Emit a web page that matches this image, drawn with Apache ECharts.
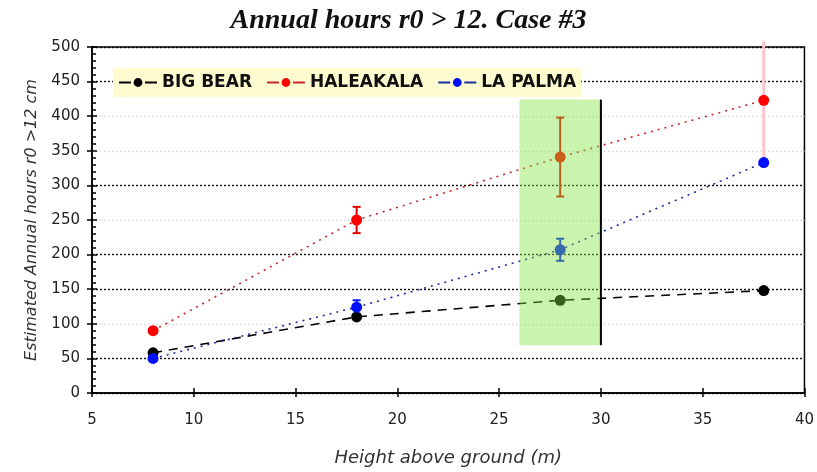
<!DOCTYPE html>
<html>
<head>
<meta charset="utf-8">
<script src="https://cdn.jsdelivr.net/npm/echarts@6/dist/echarts.min.js"></script>
<style>
  html, body { margin: 0; padding: 0; background: #fff; }
  #chart { width: 817px; height: 472px; }
</style>
</head>
<body>
<div id="chart"></div>
<script>
// Heights above ground (m) at which each site was measured
const heights = [8, 18, 28, 38];

// Estimated annual hours with r0 > 12 cm
const bigBear   = [58, 110, 134, 148];
const haleakala = [90, 250, 341, 423];
const laPalma   = [50, 124, 207, 333];

// Half-widths of the error bars (null = no bar)
const haleakalaErr = [null, 19, 57, 85];
const laPalmaErr   = [null, 10, 16, null];

// Highlighted height band and its vertical extent
const bandX = [26, 30];
const bandY = [69, 424];

// Axis ranges
const xTicks = { min: 5, max: 40, step: 5 };
const yTicks = { min: 0, max: 500, step: 50 };

const font = 'DejaVu Sans';

function pairs(ys) {
  return heights.map((h, i) => [h, ys[i]]);
}
function errRows(ys, errs) {
  const rows = [];
  heights.forEach((h, i) => {
    if (errs[i] != null) rows.push([h, ys[i] - errs[i], ys[i] + errs[i], ys[i] + errs[i] > yTicks.max ? 1 : 0]);
  });
  return rows;
}

function errorBars(name, rows, color, faint) {
  return {
    type: 'custom',
    name: name + ' err',
    xAxisIndex: 0, yAxisIndex: 0,
    z: 1,
    clip: false,
    data: rows,
    renderItem: function (params, api) {
      const x = api.value(0);
      const lo = api.coord([x, api.value(1)]);
      const hi = api.coord([x, api.value(2)]);
      const over = api.value(3) === 1;
      const stroke = over ? faint : color;
      const children = [{
        type: 'line',
        shape: { x1: lo[0], y1: lo[1], x2: hi[0], y2: hi[1] },
        style: { stroke: stroke, lineWidth: over ? 3 : 2 }
      }];
      if (!over) {
        const w = 4;
        children.push(
          { type: 'line', shape: { x1: lo[0] - w, y1: lo[1], x2: lo[0] + w, y2: lo[1] }, style: { stroke: stroke, lineWidth: 2 } },
          { type: 'line', shape: { x1: hi[0] - w, y1: hi[1], x2: hi[0] + w, y2: hi[1] }, style: { stroke: stroke, lineWidth: 2 } }
        );
      }
      return { type: 'group', children: children };
    }
  };
}

// Gridline shades, one per tick from 0 to 500
const gridShades = ['#000', '#111', '#e2e2e2', '#111', '#111', '#e2e2e2', '#111', '#e2e2e2', '#e2e2e2', '#111', '#000'];

const chart = echarts.init(document.getElementById('chart'), null, { renderer: 'canvas' });

chart.setOption({
  backgroundColor: '#ffffff',
  animation: false,
  title: {
    text: 'Annual hours r0 > 12. Case #3',
    left: 'center', top: 2,
    textStyle: { fontFamily: 'Liberation Serif', fontStyle: 'italic', fontWeight: 'bold', fontSize: 28, color: '#111' }
  },
  grid: {
    left: 92, right: 10, top: 47, bottom: 77,
    show: true, borderColor: '#000', borderWidth: 1.5, backgroundColor: 'transparent'
  },
  legend: {
    left: 113, top: 68,
    backgroundColor: '#fffbd0',
    padding: [6, 5, 6, 5],
    itemGap: 14,
    itemWidth: 38, itemHeight: 11,
    data: ['BIG BEAR', 'HALEAKALA', 'LA PALMA'],
    lineStyle: { type: [12, 14], width: 2 },
    textStyle: { fontFamily: font, fontWeight: 'bold', fontSize: 17, color: '#111' }
  },
  xAxis: [{
    type: 'value', min: xTicks.min, max: xTicks.max, interval: xTicks.step,
    name: 'Height above ground (m)', nameLocation: 'middle', nameGap: 56,
    nameTextStyle: { fontFamily: font, fontStyle: 'italic', fontSize: 18, color: '#333' },
    axisLine: { show: true, lineStyle: { color: '#000', width: 1.5 } },
    axisTick: { show: true, inside: true, length: 5, lineStyle: { color: '#000', width: 1.5 } },
    axisLabel: { fontFamily: font, fontSize: 15, color: '#222', margin: 20 },
    splitLine: { show: false }
  }, {
    type: 'value', min: xTicks.min, max: xTicks.max, interval: xTicks.step, position: 'bottom',
    axisLine: { show: false },
    axisTick: { show: true, inside: false, length: 4, lineStyle: { color: '#000', width: 1.5 } },
    axisLabel: { show: false },
    splitLine: { show: false }
  }],
  yAxis: [{
    type: 'value', min: yTicks.min, max: yTicks.max, interval: yTicks.step,
    name: 'Estimated Annual hours r0 >12 cm', nameLocation: 'middle', nameGap: 52, nameRotate: 90,
    nameTextStyle: { fontFamily: font, fontStyle: 'italic', fontSize: 16, color: '#333' },
    axisLine: { show: true, lineStyle: { color: '#000', width: 1.5 } },
    axisTick: { show: true, inside: false, length: 5, lineStyle: { color: '#000', width: 1.5 } },
    axisLabel: { fontFamily: font, fontSize: 15, color: '#222', margin: 12 },
    splitLine: { show: true, lineStyle: { color: gridShades, width: 1.4, type: [2, 2] } }
  }, {
    type: 'value', min: yTicks.min, max: yTicks.max, interval: yTicks.step, position: 'left',
    axisLine: { show: false },
    axisTick: { show: true, inside: true, length: 5, lineStyle: { color: '#000', width: 1.5 } },
    minorTick: { show: true, splitNumber: 5, length: 4, lineStyle: { color: '#000', width: 1.5 } },
    axisLabel: { show: false },
    splitLine: { show: false }
  }],
  series: [
    errorBars('HALEAKALA', errRows(haleakala, haleakalaErr), '#e00000', '#ffc4cc'),
    errorBars('LA PALMA', errRows(laPalma, laPalmaErr), '#0010ff', '#aab4ff'),
    {
      name: 'BIG BEAR', type: 'line', z: 2,
      data: pairs(bigBear),
      symbol: 'circle', symbolSize: 11,
      itemStyle: { color: '#000' },
      lineStyle: { color: '#000', width: 1.6, type: [9, 7] }
    },
    {
      name: 'HALEAKALA', type: 'line', z: 2,
      data: pairs(haleakala),
      symbol: 'circle', symbolSize: 11,
      itemStyle: { color: '#ff0000' },
      lineStyle: { color: '#c82828', width: 1.6, type: [2, 5] }
    },
    {
      name: 'LA PALMA', type: 'line', z: 2,
      data: pairs(laPalma),
      symbol: 'circle', symbolSize: 11,
      itemStyle: { color: '#0010ff' },
      lineStyle: { color: '#1c2c9c', width: 1.6, type: [2, 5] }
    },
    {
      // translucent highlight band laid over the marks between 26 and 30 m
      type: 'custom', name: 'band', z: 5, clip: false, silent: true,
      data: [[bandX[0], bandY[0], bandX[1], bandY[1]]],
      renderItem: function (params, api) {
        const p0 = api.coord([api.value(0), api.value(1)]);
        const p1 = api.coord([api.value(2), api.value(3)]);
        return {
          type: 'group',
          children: [{
            type: 'rect',
            shape: { x: p0[0], y: p1[1], width: p1[0] - p0[0], height: p0[1] - p1[1] },
            style: { fill: 'rgba(128,228,60,0.42)' }
          }, {
            type: 'line',
            shape: { x1: p1[0], y1: p1[1], x2: p1[0], y2: p0[1] },
            style: { stroke: '#000', lineWidth: 2 }
          }]
        };
      }
    }
  ]
});
</script>
</body>
</html>
